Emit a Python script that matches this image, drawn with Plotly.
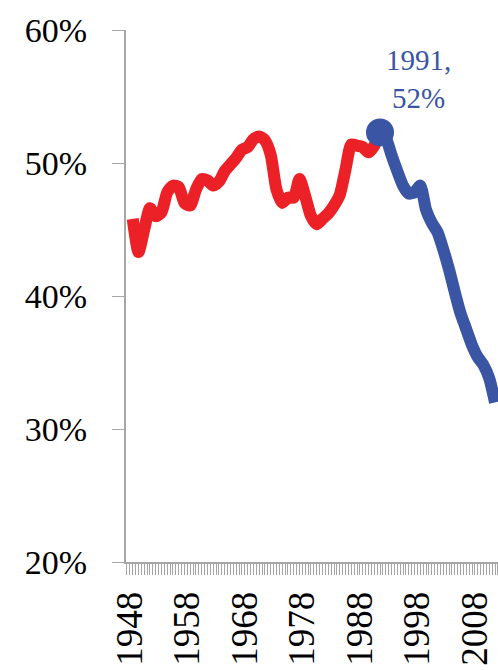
import plotly.graph_objects as go

red_years = list(range(1948, 1992))
red_values = [45.8, 43.3, 45.0, 46.6, 46.0, 46.3, 47.8, 48.3, 48.2, 47.0,
              46.8, 48.0, 48.8, 48.7, 48.3, 48.6, 49.4, 49.9, 50.4, 51.0,
              51.2, 51.8, 52.0, 51.7, 50.6, 48.0, 47.0, 47.4, 47.4, 48.8,
              47.5, 46.0, 45.4, 45.8, 46.2, 46.8, 47.6, 49.5, 51.4, 51.3,
              51.2, 50.8, 51.3, 52.3]

blue_years = list(range(1991, 2012))
blue_values = [52.3, 51.9, 50.6, 49.4, 48.3, 47.7, 47.8, 48.3, 46.5, 45.5,
               44.8, 43.5, 42.0, 40.3, 38.7, 37.5, 36.3, 35.4, 34.8, 33.8, 32.0]

peak_year = 1991
peak_value = 52.3
peak_label = "1991,<br>52%"

label_years = [1948, 1958, 1968, 1978, 1988, 1998, 2008]
y_ticks = [20, 30, 40, 50, 60]
y_tick_text = ["20%", "30%", "40%", "50%", "60%"]

RED = "#ec2127"
BLUE = "#3a55a4"
FONT = "Liberation Serif"

fig = go.Figure()
fig.add_trace(go.Scatter(x=red_years, y=red_values, mode="lines",
                         line=dict(color=RED, width=12, shape="spline", smoothing=0.6),
                         hoverinfo="skip"))
fig.add_trace(go.Scatter(x=blue_years, y=blue_values, mode="lines",
                         line=dict(color=BLUE, width=12, shape="spline", smoothing=0.6),
                         hoverinfo="skip"))
fig.add_trace(go.Scatter(x=[peak_year], y=[peak_value], mode="markers",
                         marker=dict(color=BLUE, size=28), hoverinfo="skip"))

fig.add_annotation(x=peak_year, y=peak_value, text=peak_label, showarrow=False,
                   xanchor="center", yanchor="bottom", xshift=38, yshift=16,
                   font=dict(family=FONT, size=29, color=BLUE), align="center")

fig.update_layout(
    width=498, height=670,
    margin=dict(l=126, r=0, t=30, b=108),
    paper_bgcolor="white", plot_bgcolor="white",
    showlegend=False,
    font=dict(family=FONT, color="black"),
)
fig.update_xaxes(
    automargin=False,
    range=[1946.83, 2011.52],
    tickvals=[y - 0.5 for y in label_years],
    ticktext=[str(y) for y in label_years],
    tickangle=-90,
    tickfont=dict(family=FONT, size=37, color="black"),
    ticks="outside", ticklen=11, tickcolor="#a6a6a6", tickwidth=1,
    ticklabelstandoff=2,
    minor=dict(dtick=0.5, tick0=0, ticks="outside", ticklen=11, tickcolor="#a6a6a6", tickwidth=1),
    showline=True, linecolor="#a6a6a6", linewidth=2,
    showgrid=False, zeroline=False,
)
fig.update_yaxes(
    automargin=False,
    range=[20, 60],
    tickvals=y_ticks, ticktext=y_tick_text,
    tickfont=dict(family=FONT, size=34, color="black"),
    ticks="outside", ticklen=12, tickcolor="#a6a6a6", tickwidth=1,
    ticklabelstandoff=18,
    showline=True, linecolor="#a6a6a6", linewidth=2,
    showgrid=False, zeroline=False,
)

fig.write_html("out.html",
               config={"displayModeBar": False},
               post_script="document.body.style.margin='0';document.body.style.padding='0';")
